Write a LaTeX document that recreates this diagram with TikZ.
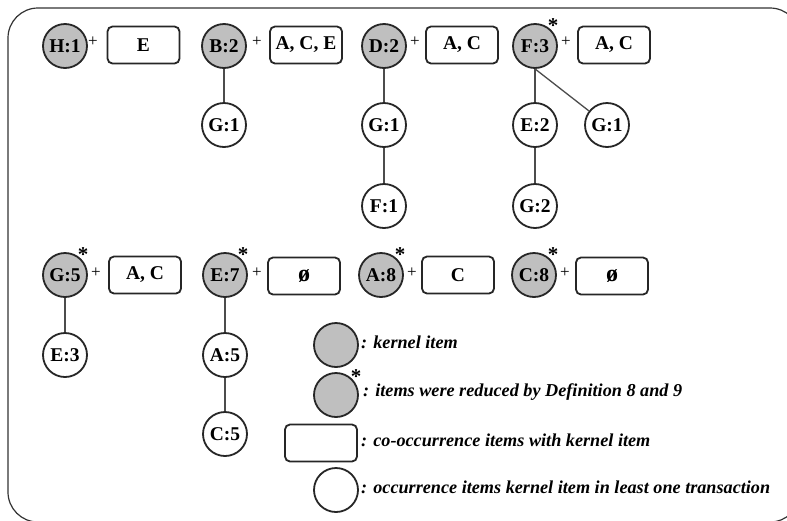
\documentclass[tikz,border=0pt]{standalone}
\usepackage{fontspec}
\setmainfont{Liberation Serif}
\begin{document}
\begin{tikzpicture}[x=1pt,y=-1pt,
 kern/.style={circle,draw=black!85,line width=1.8pt,fill=black!25,minimum size=44pt,inner sep=0pt,font=\fontsize{19.5}{19.5}\selectfont\bfseries},
 occ/.style={kern,fill=white},
 cobox/.style={draw=black!85,line width=1.8pt,rounded corners=5pt,minimum width=72pt,minimum height=37pt,inner sep=0pt,font=\fontsize{19.5}{19.5}\selectfont\bfseries},
 plussign/.style={font=\fontsize{17}{17}\selectfont,inner sep=0pt},
 starmark/.style={font=\fontsize{21}{21}\selectfont\bfseries,inner sep=0pt},
 link/.style={draw=black!70,line width=1.3pt},
 legtxt/.style={anchor=west,inner sep=0pt,font=\fontsize{18.2}{18.2}\selectfont\bfseries\itshape}]
\clip (0,0) rectangle (787,520);
\fill[white] (0,0) rectangle (787,520);
\draw[black!80,line width=1.2pt,rounded corners=30pt] (8,8) rectangle (800,522);
% row 1
\node[kern] (H1) at (65,46) {H:1};
\node[plussign] (pH1) at (93,42) {+};
\node[cobox] (bH1) at (143.5,45) {E};
\node[kern] (B2) at (224,46) {B:2};
\node[plussign] (pB2) at (257,42) {+};
\node[cobox] (bB2) at (306,45) {A, C, E};
\node[occ] (B2G1) at (224,125) {G:1};
\node[kern] (D2) at (384,46) {D:2};
\node[plussign] (pD2) at (415,42) {+};
\node[cobox] (bD2) at (462,45) {A, C};
\node[occ] (D2G1) at (384,125) {G:1};
\node[occ] (D2F1) at (384,206) {F:1};
\node[kern] (F3) at (535,46) {F:3};
\node[starmark] (sF3) at (553,26) {*};
\node[plussign] (pF3) at (566,42) {+};
\node[cobox] (bF3) at (614,45) {A, C};
\node[occ] (F3E2) at (535,125) {E:2};
\node[occ] (F3G1) at (607,125) {G:1};
\node[occ] (F3G2) at (535,206) {G:2};
\draw[link] (B2) -- (B2G1);
\draw[link] (D2) -- (D2G1);
\draw[link] (D2G1) -- (D2F1);
\draw[link] (F3) -- (F3E2);
\draw[link] (F3E2) -- (F3G2);
\draw[link] (F3.south) -- (F3G1);
% row 2
\node[kern] (G5) at (65,275) {G:5};
\node[starmark] (sG5) at (83,255) {*};
\node[plussign] (pG5) at (96,273) {+};
\node[cobox] (bG5) at (145,275) {A, C};
\node[occ] (G5E3) at (65,355) {E:3};
\node[kern] (E7) at (225,275) {E:7};
\node[starmark] (sE7) at (243,255) {*};
\node[plussign] (pE7) at (257,273) {+};
\node[cobox] (bE7) at (304,276) {\fontsize{24}{24}\selectfont ø};
\node[occ] (E7A5) at (225,355) {A:5};
\node[occ] (E7C5) at (225,434) {C:5};
\node[kern] (A8) at (381,275) {A:8};
\node[starmark] (sA8) at (400,255) {*};
\node[plussign] (pA8) at (412,273) {+};
\node[cobox] (bA8) at (458,275) {C};
\node[kern] (C8) at (534,275) {C:8};
\node[starmark] (sC8) at (553,255) {*};
\node[plussign] (pC8) at (565,273) {+};
\node[cobox] (bC8) at (612,276) {\fontsize{24}{24}\selectfont ø};
\draw[link] (G5) -- (G5E3);
\draw[link] (E7) -- (E7A5);
\draw[link] (E7A5) -- (E7C5);
% legend
\node[kern] (L1) at (336,345) {};
\node[legtxt] (T1) at (361,342) {: kernel item};
\node[kern] (L2) at (336,395) {};
\node[starmark] (sL2) at (356,377) {*};
\node[legtxt] (T2) at (363,392) {: items were reduced by Definition 8 and 9};
\node[cobox] (L3) at (321,443) {};
\node[legtxt] (T3) at (361,440) {: co-occurrence items with kernel item};
\node[occ] (L4) at (336,490) {};
\node[legtxt] (T4) at (361,487) {: occurrence items kernel item in least one transaction};
\end{tikzpicture}
\end{document}
